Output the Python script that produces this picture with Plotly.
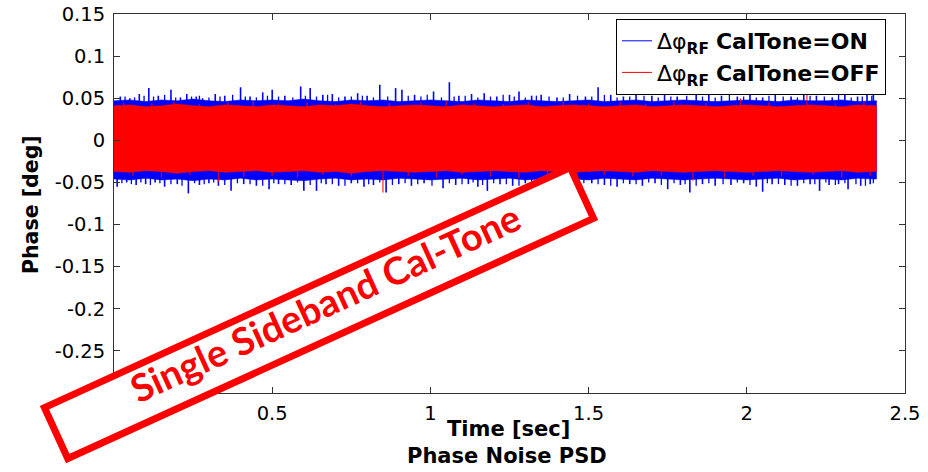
import math
import numpy as np
import plotly.graph_objects as go

# ---------------- data ----------------
env_time = np.round(np.arange(0, 2.40001, 0.05), 2).tolist() + [2.41]

on_upper = [0.047, 0.048, 0.046, 0.048, 0.047, 0.049, 0.047, 0.046, 0.048, 0.047,
            0.048, 0.047, 0.049, 0.047, 0.046, 0.048, 0.047, 0.048, 0.046, 0.047,
            0.048, 0.047, 0.046, 0.048, 0.047, 0.046, 0.048, 0.047, 0.046, 0.047,
            0.048, 0.046, 0.047, 0.048, 0.046, 0.047, 0.048, 0.047, 0.046, 0.047,
            0.048, 0.047, 0.046, 0.048, 0.047, 0.047, 0.048, 0.046, 0.047, 0.047]
on_lower = [-0.046, -0.047, -0.045, -0.047, -0.046, -0.048, -0.046, -0.047, -0.045, -0.047,
            -0.046, -0.047, -0.048, -0.046, -0.045, -0.047, -0.046, -0.047, -0.045, -0.046,
            -0.047, -0.046, -0.045, -0.047, -0.046, -0.045, -0.047, -0.046, -0.045, -0.046,
            -0.047, -0.045, -0.046, -0.047, -0.045, -0.046, -0.047, -0.046, -0.045, -0.046,
            -0.047, -0.046, -0.045, -0.047, -0.046, -0.046, -0.047, -0.045, -0.046, -0.046]
off_upper = [0.041, 0.042, 0.040, 0.041, 0.043, 0.041, 0.040, 0.042, 0.041, 0.040,
             0.042, 0.041, 0.040, 0.042, 0.041, 0.043, 0.041, 0.040, 0.041, 0.042,
             0.041, 0.040, 0.042, 0.041, 0.040, 0.041, 0.042, 0.040, 0.041, 0.042,
             0.041, 0.040, 0.041, 0.042, 0.040, 0.041, 0.042, 0.041, 0.040, 0.041,
             0.042, 0.041, 0.040, 0.041, 0.042, 0.041, 0.040, 0.042, 0.041, 0.041]
off_lower = [-0.037, -0.038, -0.036, -0.037, -0.039, -0.037, -0.036, -0.038, -0.037, -0.036,
             -0.038, -0.037, -0.036, -0.038, -0.037, -0.039, -0.037, -0.036, -0.037, -0.038,
             -0.037, -0.036, -0.038, -0.037, -0.036, -0.037, -0.038, -0.036, -0.037, -0.038,
             -0.037, -0.036, -0.037, -0.038, -0.036, -0.037, -0.038, -0.037, -0.036, -0.037,
             -0.038, -0.037, -0.036, -0.037, -0.038, -0.037, -0.036, -0.038, -0.037, -0.037]

# tallest blue excursions
on_peak_up_time = [0.02, 0.05, 0.08, 0.11, 0.14, 0.18, 0.21, 0.23, 0.26, 0.28,
                   0.32, 0.35, 0.40, 0.43, 0.47, 0.50, 0.54, 0.59, 0.62, 0.66,
                   0.69, 0.73, 0.77, 0.80, 0.84, 0.89, 0.91, 0.95, 1.01, 1.06,
                   1.09, 1.13, 1.17, 1.21, 1.25, 1.28, 1.32, 1.35, 1.40, 1.44,
                   1.49, 1.53, 1.57, 1.61, 1.65, 1.70, 1.74, 1.78, 1.84, 1.88,
                   1.92, 1.97, 2.01, 2.05, 2.09, 2.14, 2.18, 2.22, 2.27, 2.31,
                   2.35, 2.38, 2.40]
on_peak_up = [0.052, 0.050, 0.055, 0.062, 0.053, 0.060, 0.051, 0.055, 0.052, 0.050,
              0.055, 0.053, 0.063, 0.052, 0.057, 0.060, 0.053, 0.064, 0.062, 0.054,
              0.055, 0.052, 0.056, 0.053, 0.066, 0.062, 0.060, 0.054, 0.058, 0.069,
              0.053, 0.055, 0.056, 0.052, 0.054, 0.058, 0.053, 0.054, 0.051, 0.055,
              0.052, 0.063, 0.054, 0.052, 0.055, 0.053, 0.057, 0.052, 0.054, 0.055,
              0.053, 0.052, 0.056, 0.051, 0.054, 0.052, 0.055, 0.053, 0.051, 0.055,
              0.052, 0.054, 0.055]
on_peak_dn_time = [0.01, 0.04, 0.07, 0.10, 0.13, 0.16, 0.20, 0.235, 0.27, 0.30,
                   0.33, 0.37, 0.41, 0.45, 0.49, 0.52, 0.56, 0.60, 0.64, 0.67,
                   0.71, 0.75, 0.79, 0.82, 0.86, 0.90, 0.94, 0.98, 1.04, 1.08,
                   1.12, 1.15, 1.18, 1.22, 1.26, 1.30, 1.34, 1.38, 1.42, 1.46,
                   1.51, 1.55, 1.59, 1.63, 1.67, 1.71, 1.75, 1.79, 1.82, 1.86,
                   1.90, 1.95, 1.99, 2.03, 2.05, 2.08, 2.12, 2.16, 2.20, 2.23,
                   2.26, 2.29, 2.32, 2.36, 2.39]
on_peak_dn = [-0.055, -0.050, -0.053, -0.052, -0.050, -0.055, -0.052, -0.063, -0.053, -0.051,
              -0.054, -0.060, -0.052, -0.054, -0.058, -0.052, -0.053, -0.060, -0.060, -0.052,
              -0.054, -0.051, -0.055, -0.053, -0.062, -0.052, -0.054, -0.051, -0.057, -0.053,
              -0.052, -0.055, -0.060, -0.052, -0.054, -0.051, -0.053, -0.055, -0.052, -0.054,
              -0.051, -0.053, -0.055, -0.052, -0.054, -0.051, -0.058, -0.053, -0.062, -0.052,
              -0.054, -0.053, -0.051, -0.055, -0.061, -0.052, -0.053, -0.054, -0.052, -0.060,
              -0.053, -0.052, -0.058, -0.054, -0.052]

# smaller blue excursions (the dense fringe)
on_fringe_up_time = [0.035, 0.065, 0.095, 0.125, 0.16, 0.195, 0.245, 0.27, 0.30, 0.335,
                     0.375, 0.415, 0.45, 0.485, 0.52, 0.565, 0.605, 0.64, 0.675, 0.71,
                     0.75, 0.785, 0.82, 0.865, 0.93, 0.97, 0.99, 1.035, 1.075, 1.11,
                     1.15, 1.19, 1.23, 1.265, 1.30, 1.335, 1.375, 1.42, 1.465, 1.51,
                     1.55, 1.59, 1.63, 1.675, 1.72, 1.76, 1.81, 1.86, 1.90, 1.945,
                     1.99, 2.03, 2.07, 2.115, 2.16, 2.20, 2.245, 2.29, 2.33, 2.365,
                     2.395]
on_fringe_up = [0.052, 0.051, 0.053, 0.052, 0.054, 0.051, 0.052, 0.053, 0.051, 0.052,
                0.054, 0.052, 0.051, 0.053, 0.052, 0.051, 0.053, 0.052, 0.054, 0.051,
                0.052, 0.053, 0.051, 0.052, 0.053, 0.052, 0.054, 0.051, 0.052, 0.053,
                0.051, 0.052, 0.054, 0.052, 0.051, 0.053, 0.052, 0.051, 0.053, 0.052,
                0.054, 0.051, 0.052, 0.053, 0.051, 0.052, 0.053, 0.052, 0.051, 0.054,
                0.052, 0.051, 0.053, 0.052, 0.051, 0.053, 0.052, 0.054, 0.051, 0.052,
                0.053]
on_fringe_dn_time = [0.025, 0.055, 0.085, 0.115, 0.145, 0.18, 0.215, 0.255, 0.285, 0.315,
                     0.35, 0.39, 0.43, 0.47, 0.505, 0.54, 0.58, 0.62, 0.655, 0.69,
                     0.73, 0.77, 0.805, 0.84, 0.88, 0.92, 0.96, 1.005, 1.06, 1.10,
                     1.135, 1.165, 1.20, 1.24, 1.28, 1.32, 1.36, 1.40, 1.44, 1.485,
                     1.53, 1.57, 1.61, 1.65, 1.69, 1.73, 1.77, 1.805, 1.84, 1.88,
                     1.925, 1.97, 2.01, 2.065, 2.10, 2.14, 2.18, 2.215, 2.25, 2.28,
                     2.31, 2.345, 2.375, 2.40]
on_fringe_dn = [-0.051, -0.052, -0.050, -0.053, -0.051, -0.052, -0.054, -0.051, -0.052, -0.050,
                -0.053, -0.051, -0.052, -0.054, -0.051, -0.052, -0.050, -0.053, -0.051, -0.052,
                -0.054, -0.051, -0.052, -0.050, -0.053, -0.051, -0.052, -0.054, -0.051, -0.052,
                -0.050, -0.053, -0.051, -0.052, -0.054, -0.051, -0.052, -0.050, -0.053, -0.051,
                -0.052, -0.054, -0.051, -0.052, -0.050, -0.053, -0.051, -0.052, -0.054, -0.051,
                -0.052, -0.050, -0.053, -0.051, -0.052, -0.054, -0.051, -0.052, -0.050, -0.053,
                -0.051, -0.052, -0.054, -0.051]

off_peak_up_time = [0.03, 0.12, 0.19, 0.27, 0.36, 0.44, 0.52, 0.61, 0.70, 0.78,
                    0.87, 0.97, 1.05, 1.14, 1.23, 1.31, 1.42, 1.50, 1.60, 1.68,
                    1.77, 1.87, 1.98, 2.07, 2.19, 2.28, 2.37]
off_peak_up = [0.045, 0.044, 0.046, 0.043, 0.045, 0.047, 0.044, 0.045, 0.043, 0.046,
               0.044, 0.045, 0.047, 0.044, 0.043, 0.045, 0.046, 0.044, 0.045, 0.043,
               0.046, 0.044, 0.050, 0.045, 0.056, 0.044, 0.046]
off_peak_dn_time = [0.06, 0.15, 0.24, 0.33, 0.41, 0.50, 0.58, 0.66, 0.75, 0.85,
                    0.93, 1.02, 1.10, 1.19, 1.28, 1.37, 1.46, 1.55, 1.64, 1.73,
                    1.83, 1.93, 2.02, 2.11, 2.21, 2.30, 2.39]
off_peak_dn = [-0.042, -0.044, -0.041, -0.050, -0.043, -0.042, -0.044, -0.041, -0.043, -0.062,
               -0.042, -0.044, -0.041, -0.043, -0.045, -0.042, -0.044, -0.041, -0.043, -0.042,
               -0.048, -0.044, -0.042, -0.043, -0.041, -0.044, -0.042]

x_ticks = [0, 0.5, 1, 1.5, 2, 2.5]
x_tick_labels = ["0", "0.5", "1", "1.5", "2", "2.5"]
y_ticks = [0.15, 0.1, 0.05, 0, -0.05, -0.1, -0.15, -0.2, -0.25, -0.3]
y_tick_labels = ["0.15", "0.1", "0.05", "0", "-0.05", "-0.1", "-0.15", "-0.2", "-0.25", ""]

series_names = ["Δφ<sub><b>RF</b></sub> <b>CalTone=ON</b>",
                "Δφ<sub><b>RF</b></sub> <b>CalTone=OFF</b>"]
series_colors = ["#0000ff", "#ff0000"]

# ---------------- figure ----------------
W, H = 928, 472
L, R, T, B = 114, 23, 14, 79
PW, PH = W - L - R, H - T - B


def px(x):
    return (x - L) / PW


def py(y):
    return (H - B - y) / PH


def band(upper, lower):
    xs = list(env_time) + list(env_time[::-1])
    ys = list(upper) + list(lower[::-1])
    return xs, ys


def spikes(ts, vs):
    xs, ys = [], []
    for t, v in zip(ts, vs):
        xs += [t, t, None]
        ys += [0, v, None]
    return xs, ys


fig = go.Figure()

bx, by = band(on_upper, on_lower)
fig.add_trace(go.Scatter(x=bx, y=by, fill="toself", fillcolor=series_colors[0],
                         line=dict(color=series_colors[0], width=0.5),
                         mode="lines", showlegend=False, hoverinfo="skip"))
for ts, vs, lw in [(on_fringe_up_time, on_fringe_up, 1.3), (on_fringe_dn_time, on_fringe_dn, 1.3),
                   (on_peak_up_time, on_peak_up, 1.6), (on_peak_dn_time, on_peak_dn, 1.6)]:
    sx, sy = spikes(ts, vs)
    fig.add_trace(go.Scatter(x=sx, y=sy, mode="lines",
                             line=dict(color=series_colors[0], width=lw),
                             showlegend=False, hoverinfo="skip"))

rx, ry = band(off_upper, off_lower)
fig.add_trace(go.Scatter(x=rx, y=ry, fill="toself", fillcolor=series_colors[1],
                         line=dict(color=series_colors[1], width=0.5),
                         mode="lines", showlegend=False, hoverinfo="skip"))
for ts, vs in [(off_peak_up_time, off_peak_up), (off_peak_dn_time, off_peak_dn)]:
    sx, sy = spikes(ts, vs)
    fig.add_trace(go.Scatter(x=sx, y=sy, mode="lines",
                             line=dict(color="rgba(255,0,0,0.75)", width=1.4),
                             showlegend=False, hoverinfo="skip"))

for name, col in zip(series_names, series_colors):
    fig.add_trace(go.Scatter(x=[None], y=[None], mode="lines", name=name,
                             line=dict(color=col, width=1)))

axis_common = dict(ticks="inside", ticklen=6, tickcolor="#333", showline=True,
                   linecolor="#333", linewidth=1, mirror="ticks", showgrid=False,
                   zeroline=False, automargin=False,
                   tickfont=dict(family="DejaVu Sans", size=19.5, color="black"))

fig.update_layout(
    width=W, height=H,
    margin=dict(l=L, r=R, t=T, b=B, autoexpand=False),
    paper_bgcolor="white", plot_bgcolor="white",
    xaxis=dict(range=[0, 2.5], tickvals=x_ticks, ticktext=x_tick_labels,
               ticklabelstandoff=3, **axis_common),
    yaxis=dict(range=[-0.3, 0.15], tickvals=y_ticks, ticktext=y_tick_labels,
               ticklabelstandoff=4, **axis_common),
    showlegend=True,
    legend=dict(x=px(616), y=py(19), xanchor="left", yanchor="top",
                bgcolor="white", bordercolor="black", borderwidth=1,
                font=dict(family="DejaVu Sans", size=22, color="black"),
                itemwidth=30, tracegroupgap=0),
)

# axis titles
fig.add_annotation(x=px(31), y=py(205), xref="paper", yref="paper",
                   xanchor="center", yanchor="middle",
                   text="<b>Phase [deg]</b>", textangle=-90, showarrow=False,
                   font=dict(family="DejaVu Sans", size=20.5, color="black"))
fig.add_annotation(x=px(508), y=py(429), xref="paper", yref="paper",
                   xanchor="center", yanchor="middle",
                   text="<b>Time [sec]</b>", showarrow=False,
                   font=dict(family="DejaVu Sans", size=21, color="black"))
fig.add_annotation(x=px(507), y=py(456), xref="paper", yref="paper",
                   xanchor="center", yanchor="middle",
                   text="<b>Phase Noise PSD</b>", showarrow=False,
                   font=dict(family="DejaVu Sans", size=21, color="black"))

# red stamp box overlay
cx, cy = 319, 313
ang = math.radians(24.55)
hw, hh = (585 - 7) / 2, (63 - 7) / 2
ux, uy = math.cos(ang), -math.sin(ang)
vx, vy = math.sin(ang), math.cos(ang)
corners = [(cx - hw * ux - hh * vx, cy - hw * uy - hh * vy),
           (cx + hw * ux - hh * vx, cy + hw * uy - hh * vy),
           (cx + hw * ux + hh * vx, cy + hw * uy + hh * vy),
           (cx - hw * ux + hh * vx, cy - hw * uy + hh * vy)]
path = "M " + " L ".join(f"{px(a):.5f},{py(b):.5f}" for a, b in corners) + " Z"
fig.add_shape(type="path", xref="paper", yref="paper", path=path,
              line=dict(color="#ff0000", width=7), fillcolor="white", layer="above")
fig.add_annotation(x=px(325), y=py(302), xref="paper", yref="paper",
                   xanchor="center", yanchor="middle",
                   text="<b>Single Sideband Cal-Tone</b>", textangle=-24.55,
                   showarrow=False,
                   font=dict(family="Lato", size=38, color="#ff0000"))

fig.write_html("out.html")
